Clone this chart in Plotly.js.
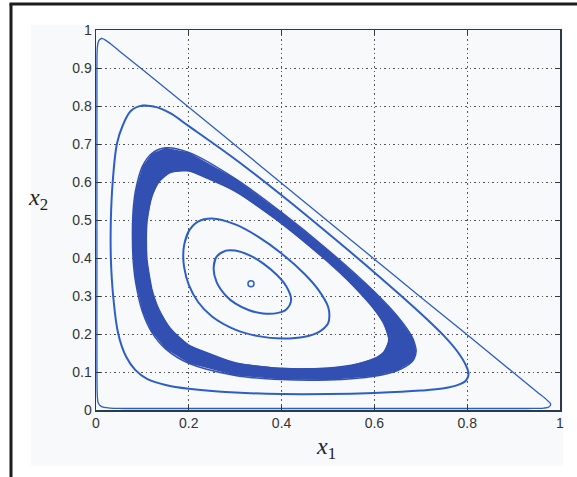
<!DOCTYPE html>
<html><head><meta charset="utf-8">
<script src="https://cdn.plot.ly/plotly-3.0.1.min.js"></script>
<style>html,body{margin:0;padding:0;background:#fff;overflow:hidden}#chart{width:577px;height:477px}</style>
</head><body><div id="chart"></div>
<script>
// tick labels
const xTickVals = [0, 0.2, 0.4, 0.6, 0.8, 1];
const xTickText = ["0", "0.2", "0.4", "0.6", "0.8", "1"];
const yTickVals = [0, 0.1, 0.2, 0.3, 0.4, 0.5, 0.6, 0.7, 0.8, 0.9, 1];
const yTickText = ["0", "0.1", "0.2", "0.3", "0.4", "0.5", "0.6", "0.7", "0.8", "0.9", "1"];

// outermost orbit (near the simplex boundary)
const orbitAX = [0.003,0.006,0.012,0.022,0.05,0.1,0.2,0.3,0.4,0.5,0.6,0.7,0.8,0.9,0.95,0.972,0.98,0.976,0.965,0.93,0.8,0.6,0.4,0.2,0.06,0.03,0.012,0.005,0.003,0.002,0.002,0.002,0.002,0.003];
const orbitAY = [0.955,0.972,0.978,0.972,0.945,0.896,0.797,0.697,0.597,0.497,0.397,0.297,0.198,0.098,0.048,0.026,0.015,0.008,0.005,0.004,0.004,0.004,0.004,0.004,0.004,0.005,0.009,0.018,0.035,0.1,0.4,0.7,0.9,0.955];

// orbit peaking at x2 = 0.8
const orbitBX = [0.099,0.13,0.16,0.2,0.3,0.4,0.5,0.6,0.7,0.75,0.78,0.797,0.803,0.797,0.78,0.75,0.7,0.6,0.5,0.4,0.3,0.2,0.15,0.11,0.085,0.065,0.048,0.037,0.032,0.032,0.036,0.045,0.058,0.075,0.099];
const orbitBY = [0.801,0.797,0.781,0.747,0.66,0.565,0.465,0.362,0.254,0.195,0.152,0.118,0.095,0.077,0.066,0.057,0.051,0.045,0.042,0.042,0.046,0.056,0.066,0.082,0.105,0.14,0.2,0.3,0.4,0.5,0.6,0.7,0.75,0.787,0.801];

// thick band: outer edge (clockwise) and inner edge (counter-clockwise)
const bandOuterX = [0.0785,0.08,0.085,0.1,0.12,0.15,0.2,0.3,0.4,0.5,0.6,0.65,0.68,0.686,0.69,0.686,0.68,0.65,0.6,0.5,0.4,0.3,0.2,0.15,0.12,0.1,0.085,0.08,0.0785];
const bandOuterY = [0.46,0.524,0.576,0.641,0.675,0.69,0.678,0.609,0.52,0.421,0.311,0.246,0.195,0.178,0.155,0.136,0.126,0.104,0.089,0.079,0.08,0.091,0.123,0.161,0.205,0.259,0.339,0.396,0.46];
const bandInnerX = [0.1085,0.11,0.12,0.135,0.16,0.2,0.3,0.4,0.5,0.55,0.6,0.62,0.631,0.62,0.6,0.55,0.5,0.4,0.3,0.2,0.16,0.135,0.12,0.11,0.1085];
const bandInnerY = [0.446,0.394,0.32,0.266,0.215,0.171,0.1245,0.1096,0.1104,0.1176,0.1355,0.1523,0.1845,0.2277,0.2646,0.3324,0.3896,0.4904,0.5755,0.6291,0.625,0.5992,0.5601,0.4957,0.446];

// orbit peaking at x2 = 0.5
const orbitDX = [0.188,0.19,0.2,0.22,0.25,0.3,0.35,0.4,0.45,0.48,0.5,0.503,0.5,0.48,0.45,0.4,0.35,0.3,0.25,0.22,0.2,0.19,0.188];
const orbitDY = [0.406,0.4345,0.4707,0.4958,0.5039,0.4884,0.4556,0.4118,0.3571,0.3149,0.2724,0.2485,0.2276,0.2051,0.1929,0.1882,0.1944,0.2116,0.2461,0.2842,0.3293,0.3755,0.406];

// innermost orbit
const orbitEX = [0.2535,0.26,0.28,0.3,0.33,0.36,0.39,0.41,0.4205,0.41,0.39,0.36,0.33,0.3,0.28,0.26,0.2535];
const orbitEY = [0.373,0.4036,0.4194,0.4195,0.4075,0.3859,0.3551,0.3255,0.29,0.2645,0.2549,0.2541,0.2625,0.2805,0.3006,0.3364,0.373];

// interior equilibrium
const centerX = [0.334];
const centerY = [0.332];

const LINE = '#2c5ec6';
const BAND = '#3250b2';

function wrap(arr) { return arr.concat(arr.slice(1, 3)); }
function orbit(xs, ys, w) {
  return {x: wrap(xs), y: wrap(ys), mode: 'lines', type: 'scatter', hoverinfo: 'skip', showlegend: false,
          line: {color: LINE, width: w, shape: 'spline', smoothing: 1}};
}

const traces = [
  {x: bandOuterX.concat(bandInnerX), y: bandOuterY.concat(bandInnerY), mode: 'lines', type: 'scatter',
   fill: 'toself', fillcolor: BAND, line: {width: 0, color: BAND}, hoverinfo: 'skip', showlegend: false},
  Object.assign(orbit(bandOuterX, bandOuterY, 1.5), {line: {color: BAND, width: 1.5, shape: 'spline', smoothing: 1}}),
  Object.assign(orbit(bandInnerX, bandInnerY, 1.5), {line: {color: BAND, width: 1.5, shape: 'spline', smoothing: 1}}),
  orbit(orbitAX, orbitAY, 1.3),
  orbit(orbitBX, orbitBY, 2),
  orbit(orbitDX, orbitDY, 2),
  orbit(orbitEX, orbitEY, 2),
  {x: centerX, y: centerY, mode: 'markers', type: 'scatter', hoverinfo: 'skip', showlegend: false,
   marker: {symbol: 'circle-open', size: 6, color: LINE, line: {width: 1.5, color: LINE}}}
];

const axisCommon = {
  range: [0, 1], autorange: false, fixedrange: true,
  showline: true, linecolor: '#2b3b48', linewidth: 1.5, mirror: 'ticks',
  ticks: 'inside', ticklen: 5, tickwidth: 1, tickcolor: '#2b3b48',
  showgrid: true, gridcolor: '#555', gridwidth: 1, griddash: '1.5px,3px',
  zeroline: false,
  tickfont: {family: 'Liberation Sans, Arial, sans-serif', size: 14, color: '#333'}
};

const layout = {
  width: 577, height: 477,
  margin: {l: 96, r: 17, t: 30, b: 67, pad: 0},
  paper_bgcolor: '#ffffff', plot_bgcolor: '#ffffff',
  xaxis: Object.assign({}, axisCommon, {tickmode: 'array', tickvals: xTickVals, ticktext: xTickText}),
  yaxis: Object.assign({}, axisCommon, {tickmode: 'array', tickvals: yTickVals, ticktext: yTickText}),
  shapes: [
    {type: 'rect', xref: 'paper', yref: 'paper', x0: -0.14, x1: 1.0065, y0: -0.147, y1: 1.013,
     fillcolor: '#f8f9fb', line: {width: 0}, layer: 'below'},
    {type: 'line', xref: 'paper', yref: 'paper', x0: -0.1832, x1: -0.1832, y0: -0.2, y1: 1.0684,
     line: {color: '#1c1c1c', width: 3}},
    {type: 'line', xref: 'paper', yref: 'paper', x0: -0.1865, x1: 1.05, y0: 1.0684, y1: 1.0684,
     line: {color: '#1c1c1c', width: 3}}
  ],
  annotations: [
    {text: '<i>x</i><sub>1</sub>', xref: 'paper', yref: 'paper', x: 0.4957, y: -0.1, xanchor: 'center', yanchor: 'middle',
     showarrow: false, font: {family: 'Liberation Serif, DejaVu Serif, serif', size: 24, color: '#222'}},
    {text: '<i>x</i><sub>2</sub>', xref: 'paper', yref: 'paper', x: -0.125, y: 0.555, xanchor: 'center', yanchor: 'middle',
     showarrow: false, font: {family: 'Liberation Serif, DejaVu Serif, serif', size: 24, color: '#222'}}
  ]
};

Plotly.newPlot('chart', traces, layout, {displayModeBar: false, staticPlot: true});
</script>
</body></html>
